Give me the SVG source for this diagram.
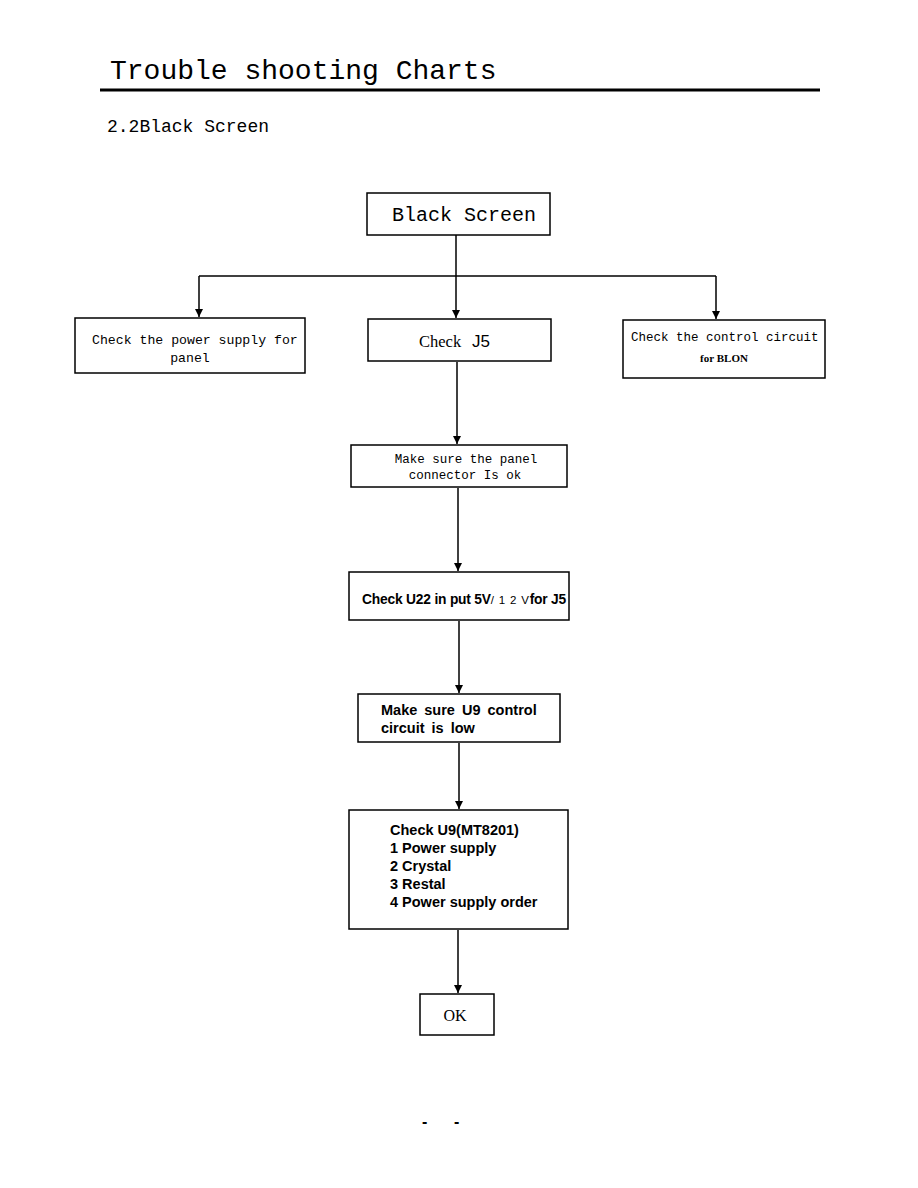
<svg xmlns="http://www.w3.org/2000/svg" width="918" height="1188" viewBox="0 0 918 1188">
<style>
.box{fill:#fff;stroke:#000;stroke-width:1.5}
.mono{font-family:"Liberation Mono","DejaVu Sans Mono",monospace;fill:#000}
.sans{font-family:"Liberation Sans","Arial",sans-serif;font-weight:bold;fill:#000}
.sansr{font-family:"Liberation Sans","Arial",sans-serif;font-weight:normal;fill:#000}
.serif{font-family:"Liberation Serif","Times New Roman",serif;fill:#000}
.conn{stroke:#000;stroke-width:1.5;fill:none}
</style>
<defs>
<marker id="arr" viewBox="0 0 10 10" refX="10" refY="5" markerWidth="8" markerHeight="8" markerUnits="userSpaceOnUse" orient="auto">
<path d="M0,0 L10,5 L0,10 z" fill="#000"/>
</marker>
</defs>
<rect width="918" height="1188" fill="#fff"/>
<text class="mono" x="110" y="79" font-size="28">Trouble shooting Charts</text>
<line x1="100" y1="90" x2="820" y2="90" stroke="#000" stroke-width="3"/>
<text class="mono" x="107" y="132" font-size="18">2.2Black Screen</text>

<g id="connectors">
<path class="conn" d="M456,235 V276"/>
<path class="conn" d="M199,276 H716"/>
<path class="conn" d="M199,276 V317" marker-end="url(#arr)"/>
<path class="conn" d="M456,276 V318" marker-end="url(#arr)"/>
<path class="conn" d="M716,276 V319" marker-end="url(#arr)"/>
<path class="conn" d="M457,362 V444" marker-end="url(#arr)"/>
<path class="conn" d="M458,488 V571" marker-end="url(#arr)"/>
<path class="conn" d="M459,621 V693" marker-end="url(#arr)"/>
<path class="conn" d="M459,743 V809" marker-end="url(#arr)"/>
<path class="conn" d="M458,930 V993" marker-end="url(#arr)"/>
</g>

<g id="black-screen">
<rect class="box" x="367" y="193" width="183" height="42"/>
<text class="mono" x="392" y="221" font-size="20">Black Screen</text>
</g>

<g id="power-supply">
<rect class="box" x="75" y="318" width="230" height="55"/>
<text class="mono" x="92" y="344" font-size="13.2">Check the power supply for</text>
<text class="mono" x="190" y="362" font-size="13.2" text-anchor="middle">panel</text>
</g>

<g id="check-j5">
<rect class="box" x="368" y="319" width="183" height="42"/>
<text class="serif" x="419" y="347" font-size="16.5">Check</text>
<text class="sansr" x="472" y="347" font-size="17">J5</text>
</g>

<g id="control-circuit">
<rect class="box" x="623" y="320" width="202" height="58"/>
<text class="mono" x="631" y="341" font-size="12.5">Check the control circuit</text>
<text class="serif" x="724" y="362" font-size="11" font-weight="bold" text-anchor="middle">for BLON</text>
</g>

<g id="panel-connector">
<rect class="box" x="351" y="445" width="216" height="42"/>
<text class="mono" x="466" y="463" font-size="12.5" text-anchor="middle">Make sure the panel</text>
<text class="mono" x="465" y="479" font-size="12.5" text-anchor="middle">connector Is ok</text>
</g>

<g id="check-u22">
<rect class="box" x="349" y="572" width="220" height="48"/>
<text class="sans" x="362" y="604" font-size="13.8" letter-spacing="-0.2">Check U22 in put 5V<tspan style="font-weight:normal" font-size="11.5" letter-spacing="0.8">/ 1 2 V</tspan>for J5</text>
</g>

<g id="u9-control">
<rect class="box" x="358" y="694" width="202" height="48"/>
<text class="sans" x="381" y="715" font-size="14.5" word-spacing="3">Make sure U9 control</text>
<text class="sans" x="381" y="733" font-size="14.5" word-spacing="3">circuit is low</text>
</g>

<g id="check-u9">
<rect class="box" x="349" y="810" width="219" height="119"/>
<text class="sans" x="390" y="835" font-size="14.5">Check U9(MT8201)</text>
<text class="sans" x="390" y="853" font-size="14.5">1 Power supply</text>
<text class="sans" x="390" y="871" font-size="14.5">2 Crystal</text>
<text class="sans" x="390" y="889" font-size="14.5">3 Restal</text>
<text class="sans" x="390" y="907" font-size="14.5">4 Power supply order</text>
</g>

<g id="ok">
<rect class="box" x="420" y="994" width="74" height="41"/>
<text class="serif" x="455" y="1021" font-size="16" text-anchor="middle">OK</text>
</g>

<text class="sans" x="422" y="1127" font-size="16">-</text>
<text class="sans" x="454" y="1127" font-size="16">-</text>
</svg>
